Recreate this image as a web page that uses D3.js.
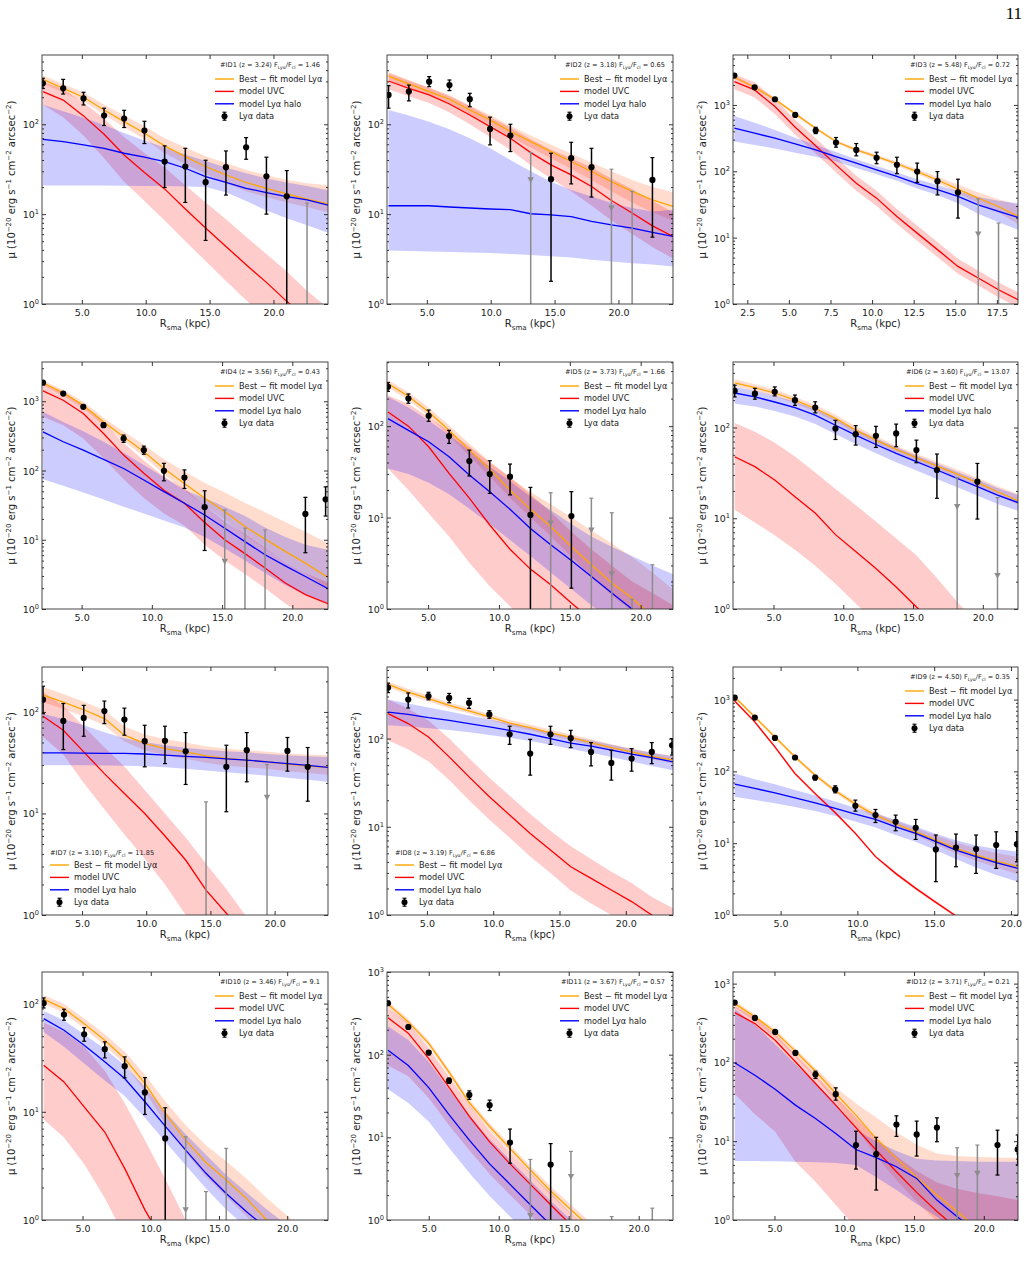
<!DOCTYPE html>
<html>
<head>
<meta charset="utf-8">
<script src="https://cdn.jsdelivr.net/npm/d3@7"></script>
<style>
body { margin: 0; background: #fff; }
svg { display: block; font-family: "DejaVu Sans", sans-serif; }
</style>
</head>
<body>
<svg id="fig" width="1029" height="1273"></svg>
<script>
// ---- panel labels ----
var panelIds = ["#ID1", "#ID2", "#ID3", "#ID4", "#ID5", "#ID6", "#ID7", "#ID8", "#ID9", "#ID10", "#ID11", "#ID12"];
var redshifts = ["3.24", "3.18", "5.48", "3.56", "3.73", "3.60", "3.10", "3.19", "4.50", "3.46", "3.67", "3.71"];
var fluxRatios = ["1.46", "0.65", "0.72", "0.43", "1.66", "13.07", "11.85", "6.86", "0.35", "9.1", "0.57", "0.21"];
var legendPlace = ["upper", "upper", "upper", "upper", "upper", "upper", "lower", "lower", "upper", "upper", "upper", "upper"];

// ---- axis ranges and ticks ----
var xDomains = [[1.88, 24.27], [1.88, 24.27], [1.64, 18.77], [2.18, 22.54], [2.1, 22.28], [2.1, 22.52],
                [1.88, 24.16], [1.99, 23.56], [1.9, 20.46], [2.03, 22.99], [2.02, 22.45], [2.03, 22.45]];
var yMax = [590, 590, 5660, 3690, 503, 527, 277, 648, 2843, 196, 1000, 1404];
var xTickValues = [[5, 10, 15, 20], [5, 10, 15, 20], [2.5, 5, 7.5, 10, 12.5, 15, 17.5], [5, 10, 15, 20],
                   [5, 10, 15, 20], [5, 10, 15, 20], [5, 10, 15, 20], [5, 10, 15, 20], [5, 10, 15, 20],
                   [5, 10, 15, 20], [5, 10, 15, 20], [5, 10, 15, 20]];

// ---- Lya data points (radius kpc, mu, errorbar top, errorbar bottom) ----
var dataR = [
  [1.95, 3.54, 5.13, 6.74, 8.31, 9.9, 11.48, 13.1, 14.69, 16.28, 17.86, 19.45, 21.04],
  [2.0, 3.59, 5.18, 6.77, 8.36, 9.95, 11.54, 14.72, 16.3, 17.89, 22.66],
  [1.72, 2.94, 4.16, 5.38, 6.61, 7.83, 9.05, 10.27, 11.49, 12.71, 13.93, 15.16],
  [2.25, 3.69, 5.12, 6.56, 7.99, 9.43, 10.86, 12.32, 13.76, 20.93, 22.37],
  [2.17, 3.61, 5.04, 6.48, 7.91, 9.35, 10.78, 12.22, 15.11],
  [2.22, 3.67, 5.09, 6.54, 7.99, 9.44, 10.89, 12.34, 13.79, 15.24, 16.71, 19.61],
  [1.96, 3.54, 5.13, 6.74, 8.3, 9.88, 11.46, 13.07, 16.24, 17.83, 21.0, 22.58],
  [2.07, 3.59, 5.12, 6.68, 8.18, 9.71, 11.24, 12.79, 14.32, 15.85, 17.38, 18.91, 20.44, 21.96, 23.49],
  [2.01, 3.32, 4.63, 5.94, 7.25, 8.56, 9.87, 11.18, 12.49, 13.8, 15.11, 16.42, 17.73, 19.04, 20.39],
  [2.15, 3.64, 5.12, 6.63, 8.09, 9.57, 11.06],
  [2.09, 3.54, 5.0, 6.45, 7.9, 9.35, 10.81, 13.71],
  [2.15, 3.6, 5.05, 6.5, 7.94, 9.39, 10.84, 12.29, 13.74, 15.19, 16.64, 20.98, 22.43]
];
var dataMu = [
  [286, 251, 194, 125, 116, 85, 38.5, 33.8, 22.7, 33.3, 55.5, 26.4, 15.8],
  [212, 231, 298, 273, 190, 88.7, 74.8, 24.5, 41.9, 33.3, 24],
  [2770, 1846, 1218, 708, 411, 271, 210, 160, 125, 99, 71, 48],
  [1858, 1291, 830, 452, 290, 197, 99, 79, 29.5, 23.6, 38.4],
  [269, 200, 130, 77.8, 41.5, 29.9, 28, 10.7, 10.4],
  [253, 236, 247, 200, 166, 97.5, 84.5, 81, 86, 56.4, 34, 25.3],
  [132, 81.5, 87.3, 102, 84, 51.5, 51.9, 41, 28.8, 42, 41.3, 28.8],
  [378, 277, 304, 289, 254, 188, 112, 67.6, 112, 101, 70.6, 53, 59.4, 70.6, 84],
  [1065, 561, 292, 156, 82, 56, 33.2, 24.6, 19.9, 16.4, 8.2, 8.7, 8.3, 9.4, 9.7],
  [101, 79, 52.1, 37.9, 26.4, 15.1, 5.67],
  [419, 216, 106, 48.4, 32.6, 24.5, 8.65, 4.68],
  [574, 367, 244, 132, 70.2, 39.5, 8.93, 6.87, 16.3, 12.2, 14.9, 8.93, 7.87]
];
var dataHi = [
  [325, 316, 227, 151, 143, 108, 57.5, 54, 39.8, 50.5, 71, 43, 30.5],
  [269, 273, 339, 311, 221, 120, 100, 47.6, 63, 54, 42.6],
  [2950, 1950, 1290, 750, 460, 323, 262, 194, 163, 133, 99, 76],
  [1950, 1360, 880, 490, 325, 225, 127, 102, 51, 41, 58],
  [300, 225, 150, 90, 54.7, 41.9, 38.5, 21.4, 19.2],
  [292, 270, 280, 228, 192, 120, 105, 103, 109, 72.6, 51, 40.2],
  [179, 121, 116, 128, 109, 73.9, 72.3, 62.6, 47, 62.6, 56, 44.6],
  [425, 329, 335, 325, 285, 207, 138, 98, 138, 124, 90, 73.8, 77, 90, 100],
  [1120, 590, 307, 165, 88, 63, 39.8, 29.5, 24.6, 21.4, 13, 13.4, 13, 14.4, 14.5],
  [113, 88.7, 60, 44.3, 32.2, 20.7, 10.9],
  [445, 228, 112, 52, 36.5, 28.2, 12.6, 8.4],
  [600, 385, 256, 139, 77.4, 47.6, 13.4, 11.2, 21, 18, 19.8, 13.8, 12]
];
var dataLo = [
  [250, 217, 164, 97, 92, 61, 19.8, 13.5, 5.1, 16.3, 40.8, 10, 0.1],
  [151, 182, 262, 237, 157, 59, 49.7, 1.79, 21.7, 15.5, 5.55],
  [2600, 1750, 1150, 670, 370, 231, 171, 130, 92, 68, 44, 19.7],
  [1770, 1225, 785, 420, 255, 172, 71, 55, 7.0, 6.5, 22],
  [240, 178, 113, 64.7, 28.5, 18.4, 17.7, 0.1, 1.69],
  [217, 205, 223, 175, 145, 73.8, 64, 60.3, 61.4, 40.9, 16.6, 9.8],
  [96, 42.6, 57.6, 76.8, 59, 28.8, 31, 19.3, 10.4, 20.5, 26.1, 13.2],
  [332, 222, 275, 255, 220, 170, 86, 38.5, 86, 79, 49, 33.8, 42.7, 52, 65],
  [1010, 535, 278, 148, 76, 50.3, 27.9, 19.4, 14.9, 11.3, 2.91, 4.7, 3.8, 4.46, 5.5],
  [91.2, 70.2, 44.9, 31.5, 20.6, 9.45, 0.1],
  [395, 205, 100, 45, 28.8, 21.1, 4.86, 0.1],
  [550, 350, 232, 125, 62.5, 33.2, 4.43, 2.4, 11.5, 6.48, 9.84, 3.72, 5]
];

// ---- grey upper limits (radius, marker value, errorbar top) ----
var limR = [[22.63], [13.13, 19.45, 21.07], [16.38, 17.6], [15.19, 16.63, 18.06],
            [13.65, 16.52, 17.96, 19.39, 20.83, 22.28], [18.16, 21.05], [14.66, 19.41], [], [],
            [12.56, 14.05, 15.53], [12.26, 15.16, 18.07, 20.97], [18.09, 19.54]];
var limMu = [[0.5], [24, 11.7, 0.5], [11.3, 0.5], [4.86, 0.5, 0.5],
             [8.7, 7.3, 2.43, 0.5, 0.5, 0.5], [13.4, 2.34], [0.5, 14.4], [], [],
             [1.24, 0.5, 0.5], [1.13, 3.36, 0.5, 0.5], [3.65, 3.9]];
var limTop = [[13.3], [48.4, 31.6, 17.9], [38.5, 16.6], [27, 14.7, 13.9],
              [18.7, 16.3, 11.3, 1.28, 3.05, 1.8], [28, 16.9], [13, 30.3], [], [],
              [5.88, 1.83, 4.59], [5.4, 6.76, 1.1, 1.39], [8.26, 8.93]];

// ---- models: radii and curves ----
var modelR = [
  [1.95, 3.54, 5.13, 6.74, 8.31, 9.9, 11.48, 13.1, 14.69, 16.28, 17.86, 19.45, 21.04, 22.63, 24.27],
  [2.0, 3.59, 5.18, 6.77, 8.36, 9.95, 11.54, 13.13, 14.72, 16.3, 17.89, 19.45, 21.07, 22.66, 24.27],
  [1.72, 2.94, 4.16, 5.38, 6.61, 7.83, 9.05, 10.27, 11.49, 12.71, 13.93, 15.16, 16.38, 17.6, 18.77],
  [2.25, 3.69, 5.12, 6.56, 7.99, 9.43, 10.86, 12.32, 13.76, 15.19, 16.63, 18.06, 19.5, 20.93, 22.54],
  [2.17, 3.61, 5.04, 6.48, 7.91, 9.35, 10.78, 12.22, 13.65, 15.11, 16.52, 17.96, 19.39, 20.83, 22.28],
  [2.22, 3.67, 5.09, 6.54, 7.99, 9.44, 10.89, 12.34, 13.79, 15.24, 16.71, 18.16, 19.61, 21.05, 22.52],
  [1.96, 3.54, 5.13, 6.74, 8.3, 9.88, 11.46, 13.07, 14.66, 16.24, 17.83, 19.41, 21.0, 22.58, 24.16],
  [2.07, 3.59, 5.12, 6.68, 8.18, 9.71, 11.24, 12.79, 14.32, 15.85, 17.38, 18.91, 20.44, 21.96, 23.56],
  [2.01, 3.32, 4.63, 5.94, 7.25, 8.56, 9.87, 11.18, 12.49, 13.8, 15.11, 16.42, 17.73, 19.04, 20.46],
  [2.15, 3.64, 5.12, 6.63, 8.09, 9.57, 11.06, 12.56, 14.05, 15.53, 17.02, 18.5, 19.99, 21.47, 22.99],
  [2.09, 3.54, 5.0, 6.45, 7.9, 9.35, 10.81, 12.26, 13.71, 15.16, 16.61, 18.07, 19.52, 20.97, 22.45],
  [2.15, 3.6, 5.05, 6.5, 7.94, 9.39, 10.84, 12.29, 13.74, 15.19, 16.64, 18.09, 19.54, 20.98, 22.45]
];
var bestFit = [
  [316, 251, 200, 144, 107, 79.4, 57.5, 43.7, 33.9, 27.3, 22.5, 19.4, 16.8, 14.7, 13.0],
  [344, 281, 231, 190, 144, 112, 83, 64, 49.7, 38.5, 29.8, 23, 17.9, 14.4, 12.2],
  [2612, 1846, 1218, 733, 446, 281, 210, 167, 130, 99, 74, 54, 39.4, 29.5, 20.9],
  [1850, 1320, 877, 504, 307, 187, 107, 65, 39.7, 25.5, 15.5, 10.2, 6.8, 4.6, 2.86],
  [292, 212, 143, 90, 54.7, 33.7, 20, 12.3, 8, 4.8, 3.05, 1.92, 1.32, 0.83, 0.57],
  [310, 275, 240, 200, 162, 126, 93.5, 72.6, 57.3, 46.5, 37.6, 30.7, 24.7, 19.6, 15.6],
  [146, 125, 105, 86, 59, 48.9, 43.6, 40.4, 36.9, 34.8, 33.5, 32.2, 30.6, 29.2, 28.4],
  [412, 337, 284, 238, 206, 176, 150, 133, 116, 103, 90, 79, 70.6, 63, 56.9],
  [1088, 573, 302, 159, 88.5, 53.6, 35, 24.6, 18.5, 14.4, 11, 8.46, 6.83, 5.64, 4.7],
  [110, 90, 65.3, 45.9, 31.1, 18.3, 9.65, 5.48, 3.4, 2.34, 1.58, 1.0, 0.68, 0.46, 0.31],
  [407, 249, 137, 61.4, 26.2, 13.5, 7.3, 4.02, 2.24, 1.33, 0.79, 0.49, 0.3, 0.19, 0.12],
  [557, 378, 244, 139, 77.3, 40.3, 21.4, 10.8, 6.05, 3.47, 2.07, 1.28, 0.78, 0.48, 0.3]
];
var bestHi = [
  [350, 280, 225, 165, 125, 95, 70, 55, 44, 37, 31, 27, 24, 22, 21],
  [380, 310, 255, 212, 162, 127, 96, 75, 59, 47, 37.5, 30, 24, 20, 17.5],
  [2750, 1940, 1280, 770, 470, 297, 223, 178, 140, 108, 83, 63, 48, 38, 31],
  [2000, 1450, 980, 580, 365, 235, 145, 97, 66, 48, 34, 25, 18, 13, 8.9],
  [320, 235, 160, 102, 64, 41, 27, 19, 14, 10, 7.2, 5.2, 3.7, 2.5, 1.63],
  [340, 300, 262, 218, 177, 138, 103, 80, 63, 51.5, 42, 34.5, 28, 22.5, 18.5],
  [176, 150, 126, 104, 72, 60, 54, 50, 46, 43.5, 42, 40.5, 39, 38, 37.5],
  [445, 364, 307, 257, 222, 190, 162, 144, 126, 112, 98, 86, 77, 69, 63],
  [1130, 600, 318, 168, 94, 57.5, 38, 27, 20.5, 16.2, 12.8, 10.2, 8.5, 7.3, 6.4],
  [120, 99, 73, 52, 36, 22, 12.5, 7.5, 4.9, 3.5, 2.4, 1.6, 1.1, 0.75, 0.5],
  [440, 270, 148, 66.5, 28.5, 14.8, 8.1, 4.5, 2.55, 1.53, 0.92, 0.57, 0.35, 0.22, 0.14],
  [600, 405, 262, 150, 85, 48, 30, 20, 13, 9, 7, 6.5, 6.3, 6.2, 6.1]
];
var bestLo = [
  [285, 225, 180, 128, 93, 68, 48, 36, 28, 22, 18, 15.5, 13.5, 12, 10.5],
  [310, 255, 208, 170, 128, 99, 72, 55, 42, 32, 24, 18, 13.5, 10.5, 8.5],
  [2480, 1750, 1160, 696, 424, 267, 198, 157, 121, 91, 67, 47, 33, 24, 16],
  [1700, 1200, 790, 450, 270, 160, 88, 52, 31, 19.5, 11.5, 7.4, 4.9, 3.3, 2.0],
  [265, 192, 128, 79, 47, 28, 16.5, 10, 6.3, 3.7, 2.3, 1.4, 0.95, 0.6, 0.4],
  [285, 253, 221, 184, 149, 116, 86, 67, 53, 43, 34.5, 28, 22.5, 17.8, 14.2],
  [125, 107, 90, 74, 51, 42, 37.5, 34.5, 31.5, 29.5, 28.5, 27.5, 26, 25, 24],
  [383, 313, 264, 221, 192, 164, 140, 124, 108, 96, 84, 73.5, 65.5, 58.5, 52.5],
  [1045, 548, 287, 151, 83.5, 50, 32.5, 22.5, 16.8, 12.9, 9.6, 7.2, 5.7, 4.6, 3.7],
  [100, 82, 59, 41, 27.5, 15.5, 7.8, 4.2, 2.5, 1.65, 1.08, 0.7, 0.46, 0.3, 0.2],
  [375, 229, 126, 56.5, 24, 12.3, 6.6, 3.6, 2.0, 1.17, 0.69, 0.43, 0.26, 0.16, 0.1],
  [500, 330, 210, 118, 64, 32, 15, 6.5, 3.2, 1.7, 0.95, 0.55, 0.3, 0.2, 0.12]
];
var uvc = [
  [231, 186, 124, 77.4, 45.6, 29, 19.1, 11.4, 7.0, 4.37, 2.74, 1.74, 1.07, 0.68, 0.43],
  [303, 251, 212, 168, 127, 94, 70, 48.4, 35.3, 27.3, 20.3, 14.2, 10.3, 7.4, 5.65],
  [2249, 1684, 945, 462, 242, 125, 66, 39.4, 20.9, 11.7, 6.6, 3.69, 2.46, 1.64, 1.16],
  [1410, 1035, 665, 343, 167, 91, 52, 33.6, 17.7, 10, 6.3, 3.9, 2.37, 1.61, 1.19],
  [143, 100, 59.5, 30.5, 16.3, 8.3, 4.5, 2.73, 1.84, 1.16, 0.76, 0.5, 0.33, 0.22, 0.15],
  [47.6, 37, 26.4, 17.3, 11.4, 6.6, 4.3, 2.8, 1.75, 1.05, 0.65, 0.4, 0.25, 0.16, 0.1],
  [90.6, 66, 40.4, 24.7, 15.7, 10, 6, 3.48, 1.76, 1.04, 0.6, 0.35, 0.2, 0.12, 0.07],
  [192, 148, 104, 62, 36.8, 21.9, 13.6, 8.4, 5.45, 3.52, 2.6, 1.92, 1.42, 1.0, 0.74],
  [957, 489, 219, 93, 49, 26.5, 13.7, 6.5, 3.8, 2.35, 1.5, 0.97, 0.65, 0.45, 0.31],
  [27, 18.9, 11.1, 6.5, 3.0, 1.24, 0.59, 0.28, 0.14, 0.07, 0.04, 0.02, 0.01, 0.01, 0.01],
  [279, 182, 89.6, 40.1, 17.9, 8.8, 4.77, 2.7, 1.53, 0.87, 0.5, 0.3, 0.18, 0.11, 0.07],
  [429, 311, 191, 102, 54, 28.7, 14.8, 7.71, 4.1, 2.24, 1.28, 0.78, 0.48, 0.3, 0.18]
];
var uvcHi = [
  [300, 245, 175, 115, 72, 48, 33, 21, 13.5, 8.8, 5.6, 3.6, 2.3, 1.4, 0.9],
  [370, 305, 255, 205, 160, 120, 92, 68, 52, 42, 33, 25, 19, 14, 10.5],
  [2900, 2190, 1230, 600, 315, 163, 86, 51, 27, 15.2, 8.6, 4.8, 3.2, 2.1, 1.5],
  [1800, 1350, 900, 490, 250, 140, 82, 55, 31, 18.5, 12, 7.6, 4.8, 3.3, 2.4],
  [218, 175, 125, 88, 60, 40, 28, 18, 11.5, 7, 4.5, 3, 2, 1.5, 1.1],
  [112, 90, 68, 48, 32, 21, 14, 9.2, 6, 3.9, 2.2, 1.2, 0.7, 0.4, 0.25],
  [157, 115, 72, 45, 29, 17, 10, 5.8, 3.2, 1.8, 0.95, 0.55, 0.3, 0.18, 0.1],
  [277, 220, 160, 100, 60, 36, 22.5, 14, 9, 6, 4.3, 3.1, 2.3, 1.6, 1.19],
  [1000, 510, 230, 98, 51.5, 28, 14.4, 6.8, 4.0, 2.47, 1.58, 1.02, 0.68, 0.47, 0.33],
  [67, 55, 40, 24, 12, 5.5, 2.4, 1.0, 0.45, 0.2, 0.1, 0.05, 0.03, 0.02, 0.01],
  [370, 240, 120, 54, 24.5, 12, 6.5, 3.7, 2.1, 1.2, 0.7, 0.42, 0.25, 0.15, 0.1],
  [520, 370, 230, 125, 68, 37, 20, 11, 6.5, 4.2, 3.0, 2.5, 2.2, 2.0, 1.8]
];
var uvcLo = [
  [165, 120, 75, 42, 23, 14, 8.5, 5, 3.0, 1.8, 1.1, 0.7, 0.45, 0.3, 0.2],
  [245, 205, 172, 135, 100, 72, 52, 35, 25, 18, 12.5, 8.5, 6, 4.3, 3.2],
  [1730, 1300, 730, 355, 186, 96, 51, 30, 16, 9, 5.1, 2.85, 1.9, 1.26, 0.89],
  [600, 450, 290, 150, 75, 40, 24, 16, 8.5, 5, 3.2, 2.0, 1.2, 0.8, 0.6],
  [34.5, 20, 11.1, 6.2, 3.2, 1.77, 1.07, 0.6, 0.35, 0.2, 0.12, 0.08, 0.05, 0.03, 0.02],
  [12.4, 9, 6.5, 4.5, 3, 1.9, 1.15, 0.7, 0.45, 0.28, 0.17, 0.1, 0.06, 0.04, 0.03],
  [56.8, 38, 20, 11, 6.2, 3.6, 2.0, 1.0, 0.5, 0.28, 0.15, 0.09, 0.05, 0.03, 0.02],
  [95.7, 75, 55, 34, 20, 12, 7.5, 4.6, 3.0, 1.9, 1.35, 1.0, 0.72, 0.5, 0.37],
  [910, 465, 208, 88, 46.5, 25.2, 13, 6.2, 3.6, 2.23, 1.43, 0.92, 0.62, 0.43, 0.29],
  [8.5, 5.8, 3.3, 1.6, 0.7, 0.3, 0.13, 0.06, 0.03, 0.02, 0.01, 0.01, 0.01, 0.01, 0.01],
  [74, 55, 30, 14, 7, 3.6, 2.0, 1.15, 0.65, 0.38, 0.22, 0.13, 0.08, 0.05, 0.03],
  [40, 22, 13.2, 5.5, 3.06, 1.55, 0.8, 0.4, 0.2, 0.1, 0.05, 0.03, 0.02, 0.01, 0.01]
];
var halo = [
  [68, 64, 59, 54, 47.6, 43, 38.5, 32.4, 26.2, 22.5, 19.4, 17.4, 15.7, 14.4, 12.6],
  [12.4, 12.4, 12.4, 12.0, 11.7, 11.4, 11.2, 10.1, 9.8, 9.4, 8.3, 7.6, 7.0, 6.25, 5.65],
  [446, 375, 315, 259, 210, 167, 133, 105, 84, 65, 53, 42, 31.3, 24.8, 20.2],
  [362, 260, 197, 145, 107, 73, 49.5, 33.6, 22.8, 14.7, 9.4, 6.06, 4.2, 2.95, 1.96],
  [121, 90, 67.5, 46.3, 29.2, 19.2, 12.3, 7.6, 5.03, 3.4, 2.27, 1.5, 1.0, 0.67, 0.46],
  [240, 217, 191, 166, 137, 106, 82.4, 65, 51.8, 42, 34, 27.5, 22.3, 18, 14.9],
  [39.5, 39.5, 39.3, 39.1, 39, 38.5, 37.5, 36.5, 35.6, 34.5, 33.5, 32.2, 31, 29.7, 28.4],
  [200, 188, 173, 161, 148, 136, 124, 112, 100, 89, 82, 73.8, 66.5, 61, 54.5],
  [66.4, 57.8, 50.3, 42.8, 36.5, 30.5, 25.4, 21.4, 16.9, 13.7, 10.5, 8, 6.5, 5.35, 4.46],
  [72.7, 56.7, 41.2, 29, 20.3, 12.4, 7.38, 4.43, 2.7, 1.76, 1.19, 0.84, 0.6, 0.42, 0.3],
  [113, 74, 40, 18.8, 9.25, 4.77, 2.7, 1.53, 0.87, 0.5, 0.3, 0.18, 0.11, 0.07, 0.04],
  [99, 68.8, 45.7, 28.7, 19.4, 12.5, 7.85, 6.2, 4.74, 3.37, 1.79, 1.1, 0.71, 0.45, 0.3]
];
var haloHi = [
  [165, 140, 118, 98, 80, 66, 55, 46, 39, 33, 28.5, 25, 22.5, 20.5, 18.5],
  [144, 125, 107, 88, 70, 54, 40, 30, 23, 18.6, 15.7, 13.3, 11.7, 10.7, 11.2],
  [684, 540, 420, 320, 250, 195, 152, 120, 96, 76, 62, 50, 41, 36, 33],
  [703, 500, 370, 260, 180, 120, 80, 52, 40, 30, 22, 15, 11, 8.5, 7.2],
  [209, 160, 115, 80, 54, 36, 25, 17, 12, 8.5, 6.2, 4.8, 3.8, 3.0, 2.4],
  [280, 254, 223, 194, 160, 124, 96, 76, 60.5, 49, 40, 32.5, 26.5, 21.5, 18],
  [96, 85, 74, 63, 55, 50.7, 47, 44.5, 42.5, 41, 40, 38.5, 37.5, 36.5, 36],
  [277, 250, 225, 203, 183, 165, 148, 133, 118, 105, 95, 85, 76, 69, 63],
  [93.4, 78, 66, 55, 46, 38, 31, 26, 21, 17, 13.5, 11, 9.3, 8.3, 7.6],
  [85.6, 70, 52, 38, 27, 17, 10, 6.2, 4, 2.6, 1.8, 1.25, 0.9, 0.65, 0.45],
  [220, 150, 82, 38, 18.5, 9.5, 5.3, 3.0, 1.7, 1.0, 0.6, 0.35, 0.21, 0.13, 0.08],
  [480, 300, 170, 95, 55, 30, 14, 10, 7.5, 6, 5.7, 5.6, 5.5, 5.5, 5.5]
];
var haloLo = [
  [20.8, 20.8, 20.8, 20.8, 20.7, 20.6, 20.5, 20.3, 20, 17.5, 14, 11, 9, 7.5, 6.2],
  [3.95, 3.9, 3.85, 3.8, 3.75, 3.7, 3.6, 3.5, 3.4, 3.3, 3.1, 2.98, 2.85, 2.75, 2.62],
  [281, 250, 220, 190, 165, 140, 112, 90, 72, 55, 44, 33, 23, 17, 13.1],
  [74.5, 60, 48, 38, 30, 24, 19, 15, 11, 7.5, 5, 3.3, 2.2, 1.6, 1.22],
  [34.5, 30, 24, 18, 12.5, 8.5, 5.7, 3.8, 2.5, 1.65, 1.1, 0.75, 0.5, 0.33, 0.22],
  [183, 170, 152, 132, 109, 85, 66, 52, 41.5, 33.6, 27, 22, 17.8, 14.4, 12.1],
  [29.9, 29.9, 29.8, 29.7, 29.5, 29.2, 28.5, 27.5, 26.5, 25.5, 24.5, 23.5, 22.5, 21.5, 20.5],
  [142, 137, 131, 125, 118, 110, 102, 94, 85, 76, 69, 62, 55, 49, 43.8],
  [44.3, 40, 36, 32, 28, 24, 20, 16.5, 13, 10.5, 8, 6, 4.6, 3.6, 2.91],
  [54.7, 40, 28, 19.5, 14, 8.8, 5.3, 3.2, 1.95, 1.25, 0.85, 0.6, 0.42, 0.3, 0.21],
  [38.2, 26, 15.5, 7.5, 3.7, 1.95, 1.1, 0.62, 0.35, 0.2, 0.12, 0.07, 0.04, 0.03, 0.02],
  [5.6, 5.6, 5.55, 5.5, 5.4, 5.3, 5.0, 3.5, 2.4, 1.6, 1.1, 0.7, 0.45, 0.3, 0.2]
];

// ---- layout ----
var colLeft = [42, 387, 733], colWidth = [286, 286, 285];
var rowTop = [55, 362, 667, 972], rowHeight = [249, 247, 248, 248];
var FONT = "DejaVu Sans, sans-serif";

var svg = d3.select("#fig");

svg.append("text")
    .attr("x", 1022).attr("y", 19)
    .attr("text-anchor", "end")
    .attr("font-family", "Liberation Serif, DejaVu Serif, serif")
    .attr("font-size", 17)
    .text("11");

// text with super/subscripts: parts = [[text, ""|"sup"|"sub"], ...]
function richText(sel, parts, size) {
    var shift = 0;
    parts.forEach(function (p) {
        var target = p[1] === "sup" ? -0.42 * size : (p[1] === "sub" ? 0.28 * size : 0);
        sel.append("tspan")
            .attr("dy", target - shift)
            .attr("font-size", p[1] ? size * 0.7 : size)
            .text(p[0]);
        shift = target;
    });
}

function drawPanel(k) {
    var col = k % 3, row = Math.floor(k / 3);
    var w = colWidth[col], h = rowHeight[row];
    var g = svg.append("g").attr("transform", "translate(" + colLeft[col] + "," + rowTop[row] + ")");

    var x = d3.scaleLinear().domain(xDomains[k]).range([0, w]);
    var y = d3.scaleLog().domain([1, yMax[k]]).range([h, 0]);

    g.append("clipPath").attr("id", "clip" + k)
        .append("rect").attr("width", w).attr("height", h);
    var plot = g.append("g").attr("clip-path", "url(#clip" + k + ")");

    var models = [
        {mid: bestFit[k], lo: bestLo[k], hi: bestHi[k], line: "#ffa500", fill: "#ff8c5a", op: 0.3},
        {mid: uvc[k], lo: uvcLo[k], hi: uvcHi[k], line: "#ff0000", fill: "#ff0000", op: 0.2},
        {mid: halo[k], lo: haloLo[k], hi: haloHi[k], line: "#0000ff", fill: "#0000ff", op: 0.2}
    ];
    var rs = modelR[k];

    // bands
    models.forEach(function (m) {
        var area = d3.area()
            .x(function (r) { return x(r); })
            .y0(function (r, i) { return y(m.lo[i]); })
            .y1(function (r, i) { return y(m.hi[i]); });
        plot.append("path").datum(rs)
            .attr("d", area)
            .attr("fill", m.fill)
            .attr("fill-opacity", m.op);
    });

    // model lines
    models.forEach(function (m) {
        var line = d3.line()
            .x(function (r) { return x(r); })
            .y(function (r, i) { return y(m.mid[i]); });
        plot.append("path").datum(rs)
            .attr("d", line)
            .attr("fill", "none")
            .attr("stroke", m.line)
            .attr("stroke-width", 1.3);
    });

    // grey upper limits
    var lims = limR[k].map(function (r, i) { return {r: r, mu: limMu[k][i], top: limTop[k][i]}; });
    var lg = plot.selectAll(".lim").data(lims).enter().append("g").attr("class", "lim");
    lg.append("line")
        .attr("x1", function (d) { return x(d.r); }).attr("x2", function (d) { return x(d.r); })
        .attr("y1", function (d) { return y(d.top); }).attr("y2", h + 5)
        .attr("stroke", "#8c8c8c").attr("stroke-width", 1.5);
    lg.append("line")
        .attr("x1", function (d) { return x(d.r) - 2; }).attr("x2", function (d) { return x(d.r) + 2; })
        .attr("y1", function (d) { return y(d.top); }).attr("y2", function (d) { return y(d.top); })
        .attr("stroke", "#8c8c8c").attr("stroke-width", 1.2);
    lg.append("path")
        .attr("transform", function (d) { return "translate(" + x(d.r) + "," + y(d.mu) + ")"; })
        .attr("d", "M-3.2,-2.6L3.2,-2.6L0,3.2Z")
        .attr("fill", "#8c8c8c");

    // data with error bars
    var pts = dataR[k].map(function (r, i) {
        return {r: r, mu: dataMu[k][i], hi: dataHi[k][i], lo: dataLo[k][i]};
    });
    var pg = plot.selectAll(".pt").data(pts).enter().append("g").attr("class", "pt");
    pg.append("line")
        .attr("x1", function (d) { return x(d.r); }).attr("x2", function (d) { return x(d.r); })
        .attr("y1", function (d) { return y(d.hi); }).attr("y2", function (d) { return Math.min(y(d.lo), h + 5); })
        .attr("stroke", "#000").attr("stroke-width", 1.5);
    [function (d) { return y(d.hi); }, function (d) { return y(d.lo); }].forEach(function (fy) {
        pg.append("line")
            .attr("x1", function (d) { return x(d.r) - 2; }).attr("x2", function (d) { return x(d.r) + 2; })
            .attr("y1", fy).attr("y2", fy)
            .attr("stroke", "#000").attr("stroke-width", 1.2);
    });
    pg.append("circle")
        .attr("cx", function (d) { return x(d.r); })
        .attr("cy", function (d) { return y(d.mu); })
        .attr("r", 3.1).attr("fill", "#000");

    // ticks (inward, on all four sides)
    var major = [1, 10, 100, 1000, 10000].filter(function (v) { return v <= yMax[k] * 1.0001; });
    var minor = [];
    major.forEach(function (d) {
        for (var m = 2; m <= 9; m++) { if (m * d <= yMax[k]) minor.push(m * d); }
    });
    function styleAxis(sel) {
        sel.select(".domain").remove();
        sel.selectAll(".tick line").attr("stroke", "#000").attr("stroke-width", 0.8);
    }
    var fmt = d3.format(".1f");
    g.append("g").attr("transform", "translate(0," + h + ")")
        .call(d3.axisBottom(x).tickValues(xTickValues[k]).tickSize(-4).tickPadding(5).tickFormat(fmt))
        .call(styleAxis)
        .call(function (s) {
            s.selectAll("text").attr("font-family", FONT).attr("font-size", 9.5).attr("fill", "#222");
        });
    g.append("g")
        .call(d3.axisTop(x).tickValues(xTickValues[k]).tickSize(-4).tickFormat(""))
        .call(styleAxis);
    g.append("g")
        .call(d3.axisLeft(y).tickValues(major).tickSize(-4).tickFormat(""))
        .call(styleAxis);
    g.append("g")
        .call(d3.axisLeft(y).tickValues(minor).tickSize(-2).tickFormat(""))
        .call(styleAxis);
    g.append("g").attr("transform", "translate(" + w + ",0)")
        .call(d3.axisRight(y).tickValues(major).tickSize(-4).tickFormat(""))
        .call(styleAxis);
    g.append("g").attr("transform", "translate(" + w + ",0)")
        .call(d3.axisRight(y).tickValues(minor).tickSize(-2).tickFormat(""))
        .call(styleAxis);

    // y tick labels 10^n
    major.forEach(function (v) {
        var t = g.append("text")
            .attr("x", -3).attr("y", y(v) + 4)
            .attr("text-anchor", "end")
            .attr("font-family", FONT).attr("fill", "#222");
        richText(t, [["10", ""], [String(Math.round(Math.log10(v))), "sup"]], 9.5);
    });

    // frame
    g.append("rect").attr("width", w).attr("height", h)
        .attr("fill", "none").attr("stroke", "#333").attr("stroke-width", 0.9);

    // axis titles
    var xl = g.append("text")
        .attr("x", w / 2).attr("y", h + 23)
        .attr("text-anchor", "middle")
        .attr("font-family", FONT).attr("fill", "#222");
    richText(xl, [["R", ""], ["sma", "sub"], [" (kpc)", ""]], 10);

    var yl = g.append("text")
        .attr("transform", "translate(-27," + (h / 2) + ") rotate(-90)")
        .attr("text-anchor", "middle")
        .attr("font-family", FONT).attr("fill", "#222");
    richText(yl, [["\u03bc (10", ""], ["\u221220", "sup"], [" erg s", ""], ["\u22121", "sup"],
                  [" cm", ""], ["\u22122", "sup"], [" arcsec", ""], ["\u22122", "sup"], [")", ""]], 10);

    // legend
    var lower = legendPlace[k] === "lower";
    var tx = lower ? 8 : w - 8;
    var ty = lower ? h - 60 : 12;
    var title = g.append("text")
        .attr("x", tx).attr("y", ty)
        .attr("text-anchor", lower ? "start" : "end")
        .attr("font-family", FONT).attr("fill", "#222");
    richText(title, [[panelIds[k] + " (z = " + redshifts[k] + ")    F", ""], ["Ly\u03b1", "sub"],
                     ["/F", ""], ["cl", "sub"], [" = " + fluxRatios[k], ""]], 6.6);

    var hx0 = lower ? 8 : w - 113;
    var rowY0 = lower ? h - 50 : 24;
    var items = [
        {label: "Best \u2212 fit model Ly\u03b1", color: "#ffa500"},
        {label: "model UVC", color: "#ff0000"},
        {label: "model Ly\u03b1 halo", color: "#0000ff"},
        {label: "Ly\u03b1 data", color: null}
    ];
    items.forEach(function (it, i) {
        var yy = rowY0 + i * 12.4;
        if (it.color) {
            g.append("line").attr("x1", hx0).attr("x2", hx0 + 19).attr("y1", yy).attr("y2", yy)
                .attr("stroke", it.color).attr("stroke-width", 1.4);
        } else {
            var cx = hx0 + 9.5;
            g.append("line").attr("x1", cx).attr("x2", cx).attr("y1", yy - 4).attr("y2", yy + 4)
                .attr("stroke", "#000").attr("stroke-width", 1.4);
            g.append("line").attr("x1", cx - 2).attr("x2", cx + 2).attr("y1", yy - 4).attr("y2", yy - 4)
                .attr("stroke", "#000").attr("stroke-width", 1.1);
            g.append("line").attr("x1", cx - 2).attr("x2", cx + 2).attr("y1", yy + 4).attr("y2", yy + 4)
                .attr("stroke", "#000").attr("stroke-width", 1.1);
            g.append("circle").attr("cx", cx).attr("cy", yy).attr("r", 3).attr("fill", "#000");
        }
        g.append("text")
            .attr("x", hx0 + 24).attr("y", yy + 3)
            .attr("font-family", FONT).attr("font-size", 8.2).attr("fill", "#222")
            .text(it.label);
    });
}

panelIds.forEach(function (id, k) { drawPanel(k); });
</script>
</body>
</html>
